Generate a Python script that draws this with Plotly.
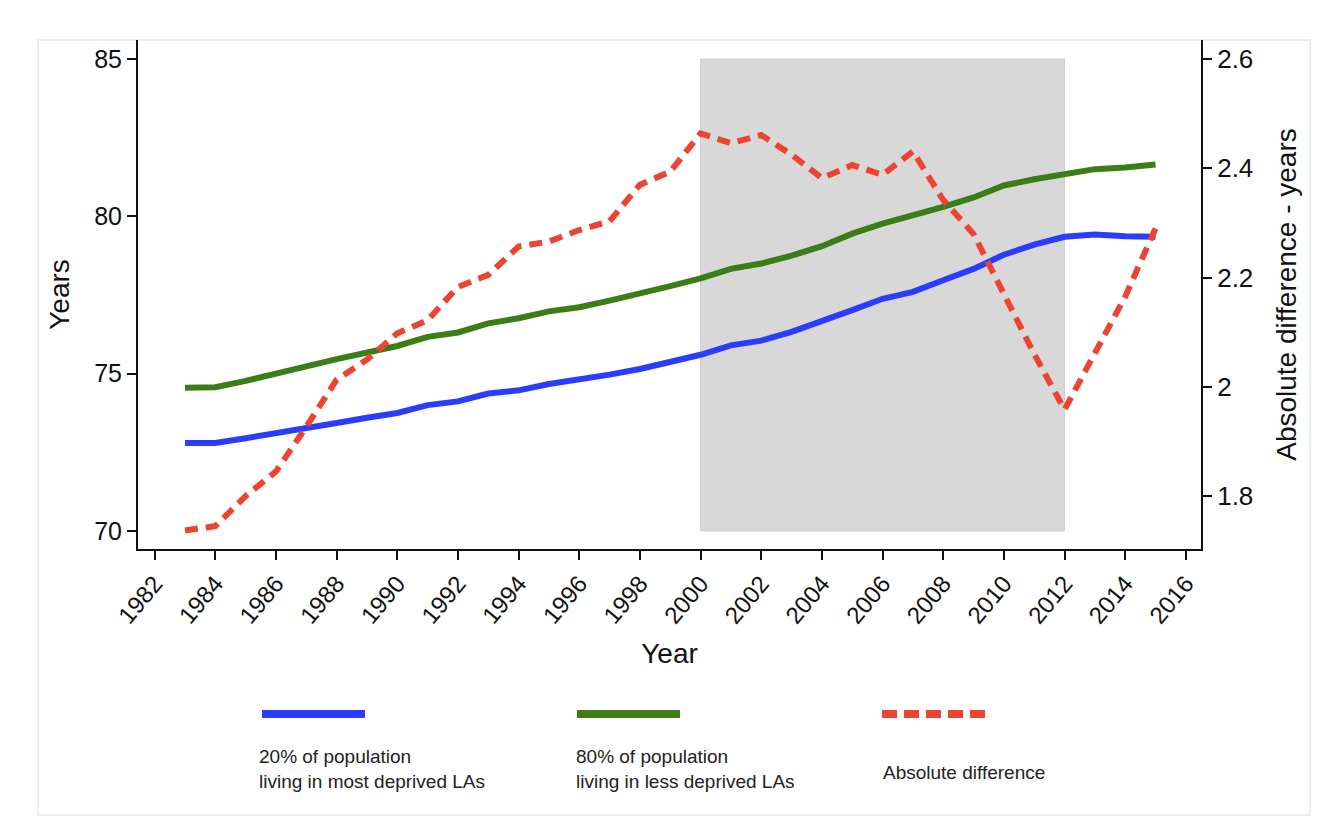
import plotly.graph_objects as go

years = list(range(1983, 2016))
most_deprived = [72.8, 72.8, 72.95, 73.1, 73.27, 73.43, 73.6, 73.75, 74.0, 74.12, 74.37, 74.47, 74.67,
                 74.8, 74.97, 75.15, 75.37, 75.6, 75.9, 76.05, 76.33, 76.65, 77.02, 77.38, 77.6,
                 77.97, 78.33, 78.78, 79.1, 79.35, 79.42, 79.37, 79.35]
less_deprived = [74.55, 74.57, 74.77, 74.98, 75.23, 75.46, 75.66, 75.88, 76.17, 76.31, 76.6, 76.76, 76.98,
                 77.11, 77.32, 77.54, 77.78, 78.03, 78.33, 78.5, 78.75, 79.05, 79.45, 79.77, 80.03,
                 80.3, 80.6, 80.98, 81.18, 81.35, 81.5, 81.55, 81.65]
abs_diff = [1.737, 1.745, 1.80, 1.845, 1.927, 2.013, 2.05, 2.098, 2.122, 2.183, 2.205, 2.257, 2.266,
            2.287, 2.303, 2.37, 2.394, 2.464, 2.446, 2.461, 2.425, 2.382, 2.406, 2.388, 2.431,
            2.342, 2.280, 2.168, 2.060, 1.958, 2.060, 2.165, 2.290]

shade_years = [2000, 2012]
shade_range = [70, 85]

left_ticks = [70, 75, 80, 85]
right_ticks = [1.8, 2.0, 2.2, 2.4, 2.6]
right_labels = ["1.8", "2", "2.2", "2.4", "2.6"]
x_ticks = list(range(1982, 2017, 2))

legend_labels = ["20% of population<br>living in most deprived LAs",
                 "80% of population<br>living in less deprived LAs",
                 "Absolute difference"]

BLUE = "#2a3dff"
GREEN = "#3b7d17"
RED = "#ec4431"
FONT = "Liberation Sans, Arial, sans-serif"

fig = go.Figure()
fig.add_trace(go.Scatter(x=years, y=most_deprived, mode="lines",
                         line=dict(color=BLUE, width=6), name=legend_labels[0], showlegend=False))
fig.add_trace(go.Scatter(x=years, y=less_deprived, mode="lines",
                         line=dict(color=GREEN, width=6), name=legend_labels[1], showlegend=False))
fig.add_trace(go.Scatter(x=years, y=abs_diff, mode="lines", yaxis="y2",
                         line=dict(color=RED, width=6, dash="13px,8px"), name=legend_labels[2],
                         showlegend=False))

fig.add_shape(type="rect", xref="x", yref="y", x0=shade_years[0], x1=shade_years[1],
              y0=shade_range[0], y1=shade_range[1], fillcolor="#d8d8d8",
              line=dict(color="#cfcfcf", width=1), layer="below")

# page offset (body margin 8px) already accounted for in margins
plot_l, plot_w, plot_b, plot_h = 138, 1063, 549, 509
def px(x):
    return (x - plot_l) / plot_w
def py(y):
    return (plot_b - y) / plot_h

# outer frame
fig.add_shape(type="rect", xref="paper", yref="paper",
              x0=px(38), x1=px(1310), y0=py(815), y1=py(40),
              line=dict(color="#e3eaec", width=1.5), layer="below")

swatches = [(262, 365, BLUE, "solid"), (577, 680, GREEN, "solid"), (882, 985, RED, "15px,7px")]
for (x0, x1, col, dash) in swatches:
    fig.add_shape(type="line", xref="paper", yref="paper", x0=px(x0), x1=px(x1),
                  y0=py(714), y1=py(714), line=dict(color=col, width=8, dash=dash))

label_pos = [(257, 769), (574, 769), (881, 772)]
for lab, (x, y) in zip(legend_labels, label_pos):
    fig.add_annotation(xref="paper", yref="paper", x=px(x), y=py(y), text=lab,
                       showarrow=False, xanchor="left", yanchor="middle", align="left",
                       font=dict(family=FONT, size=19, color="#222"))

fig.update_layout(
    width=1308, height=823,
    margin=dict(l=130, r=115, t=32, b=282),
    paper_bgcolor="white", plot_bgcolor="white",
    font=dict(family=FONT, color="#111"),
    xaxis=dict(range=[1981.45, 2016.5], tickvals=x_ticks, tickangle=-50,
               showline=True, linecolor="#111", linewidth=2, ticks="outside",
               ticklen=9, tickwidth=1.5, tickcolor="#111", showgrid=False, zeroline=False,
               tickfont=dict(size=24, family=FONT),
               title=dict(text="Year", font=dict(size=28, family=FONT), standoff=16)),
    yaxis=dict(range=[69.428, 85.604], tickvals=left_ticks, showline=True, linecolor="#111",
               linewidth=2, ticks="outside", ticklen=9, tickwidth=1.5, tickcolor="#111",
               showgrid=False, zeroline=False, tickfont=dict(size=25, family=FONT),
               title=dict(text="Years", font=dict(size=28, family=FONT), standoff=16)),
    yaxis2=dict(range=[1.703, 2.635], tickvals=right_ticks, ticktext=right_labels,
                overlaying="y", side="right", showline=True, linecolor="#111", linewidth=2,
                ticks="outside", ticklen=9, tickwidth=1.5, tickcolor="#111", showgrid=False,
                zeroline=False, tickfont=dict(size=26, family=FONT),
                title=dict(text="Absolute difference - years", font=dict(size=28, family=FONT),
                           standoff=24)),
)

fig.write_html("out.html")
